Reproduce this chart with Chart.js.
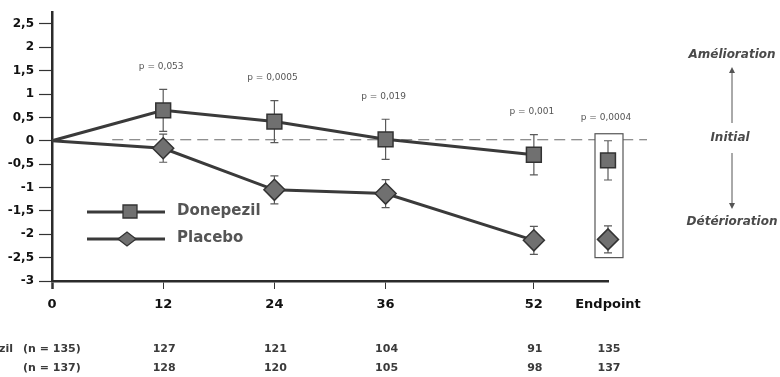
<!DOCTYPE html>
<html lang="fr">
<head>
<meta charset="UTF-8">
<title>Donepezil vs Placebo</title>
<script src="https://cdn.jsdelivr.net/npm/chart.js@4.4.0/dist/chart.umd.min.js"></script>
<style>
  html, body { margin: 0; padding: 0; background: #fff; }
  canvas { display: block; }
</style>
</head>
<body>
<canvas id="c" width="780" height="377"></canvas>
<script>
// --- data ---
const weeks = [0, 12, 24, 36, 52, 60];          // 60 = "Endpoint" slot
const weekLabels = ['0', '12', '24', '36', '52', 'Endpoint'];
const yTicks = [-3, -2.5, -2, -1.5, -1, -0.5, 0, 0.5, 1, 1.5, 2, 2.5];
const groupNames = ['Donepezil', 'Placebo'];
const donepezil = [0, 0.65, 0.41, 0.03, -0.30, -0.42];
const donepezilErr = [0, 0.45, 0.45, 0.43, 0.43, 0.42];
const placebo = [0, -0.16, -1.05, -1.13, -2.13, -2.11];
const placeboErr = [0, 0.30, 0.30, 0.30, 0.30, 0.29];
const pValues = ['', 'p = 0,053', 'p = 0,0005', 'p = 0,019', 'p = 0,001', 'p = 0,0004'];
const nDonepezil = ['(n = 135)', '127', '121', '104', '91', '135'];
const nPlacebo = ['(n = 137)', '128', '120', '105', '98', '137'];

const FONT = "'DejaVu Sans', sans-serif";
const LINE = '#3a3a3a';
const MARK = '#707070';
const errSets = [donepezilErr, placeboErr];
const valSets = [donepezil, placebo];

// error bars, zero line, endpoint box, annotations
const extras = {
  id: 'extras',
  beforeDatasetsDraw(chart) {
    const { ctx, chartArea } = chart;
    const xs = chart.scales.x, ys = chart.scales.y;
    ctx.save();
    // dashed baseline
    const y0 = ys.getPixelForValue(0) - 1;
    ctx.strokeStyle = '#6a6a6a';
    ctx.lineWidth = 1;
    ctx.setLineDash([11, 6]);
    ctx.beginPath();
    ctx.moveTo(xs.getPixelForValue(6.5), y0);
    ctx.lineTo(chartArea.right + 39, y0);
    ctx.stroke();
    ctx.setLineDash([]);

    // endpoint box
    const ex = xs.getPixelForValue(60);
    const bt = ys.getPixelForValue(0.15), bb = ys.getPixelForValue(-2.5);
    ctx.fillStyle = '#fff';
    ctx.fillRect(ex - 13, bt, 28, bb - bt);
    ctx.strokeStyle = '#555';
    ctx.lineWidth = 1.2;
    ctx.strokeRect(ex - 13, bt, 28, bb - bt);

    // error bars
    ctx.strokeStyle = '#5a5a5a';
    ctx.lineWidth = 1.2;
    valSets.forEach((vals, k) => {
      vals.forEach((v, i) => {
        const e = errSets[k][i];
        if (!e) return;
        const x = xs.getPixelForValue(weeks[i]);
        const t = ys.getPixelForValue(v + e), b = ys.getPixelForValue(v - e);
        ctx.beginPath();
        ctx.moveTo(x, t); ctx.lineTo(x, b);
        ctx.moveTo(x - 4, t); ctx.lineTo(x + 4, t);
        ctx.moveTo(x - 4, b); ctx.lineTo(x + 4, b);
        ctx.stroke();
      });
    });
    ctx.restore();
  },
  afterDraw(chart) {
    const { ctx } = chart;
    const xs = chart.scales.x, ys = chart.scales.y;
    ctx.save();
    ctx.textBaseline = 'middle';

    // p values
    ctx.font = '9px ' + FONT;
    ctx.fillStyle = '#555';
    ctx.textAlign = 'center';
    pValues.forEach((p, i) => {
      if (!p) return;
      const top = ys.getPixelForValue(donepezil[i] + donepezilErr[i]);
      ctx.fillText(p, xs.getPixelForValue(weeks[i]) - 2, top - 23);
    });

    // legend inside plot
    const ly = [212, 239];
    ctx.strokeStyle = LINE;
    ctx.lineWidth = 3;
    ly.forEach((y, k) => {
      ctx.beginPath();
      ctx.moveTo(87, y); ctx.lineTo(165, y);
      ctx.stroke();
    });
    ctx.lineWidth = 1.3;
    ctx.fillStyle = MARK;
    ctx.strokeStyle = '#333';
    ctx.beginPath();
    ctx.rect(123, ly[0] - 7, 14, 13);
    ctx.fill(); ctx.stroke();
    ctx.beginPath();
    ctx.moveTo(118, ly[1]); ctx.lineTo(127, ly[1] - 7);
    ctx.lineTo(136, ly[1]); ctx.lineTo(127, ly[1] + 7);
    ctx.closePath();
    ctx.fill(); ctx.stroke();
    ctx.font = 'bold 15px ' + FONT;
    ctx.fillStyle = '#555';
    ctx.textAlign = 'left';
    groupNames.forEach((g, k) => ctx.fillText(g, 177, ly[k] - 1));

    // patient counts below axis (group names run off the left edge)
    ctx.font = 'bold 11px ' + FONT;
    ctx.fillStyle = '#3a3a3a';
    const rows = [nDonepezil, nPlacebo];
    const ry = [349, 368];
    const nameEnd = [13, -2];
    rows.forEach((row, k) => {
      ctx.textAlign = 'right';
      ctx.fillText(groupNames[k], nameEnd[k], ry[k]);
      ctx.textAlign = 'left';
      ctx.fillText(row[0], 23, ry[k]);
      ctx.textAlign = 'center';
      for (let i = 1; i < row.length; i++) {
        ctx.fillText(row[i], xs.getPixelForValue(weeks[i]) + 1, ry[k]);
      }
    });

    // direction annotation on the right
    const ax = 732;
    ctx.font = 'italic bold 12px ' + FONT;
    ctx.fillStyle = '#4a4a4a';
    ctx.textAlign = 'center';
    ctx.fillText('Amélioration', ax, 55);
    ctx.fillText('Initial', ax - 2, 138);
    ctx.fillText('Détérioration', ax, 222);
    ctx.strokeStyle = '#555';
    ctx.fillStyle = '#555';
    ctx.lineWidth = 1;
    ctx.beginPath();
    ctx.moveTo(ax, 123); ctx.lineTo(ax, 70);
    ctx.moveTo(ax, 153); ctx.lineTo(ax, 206);
    ctx.stroke();
    ctx.beginPath();
    ctx.moveTo(ax, 67); ctx.lineTo(ax - 3, 73); ctx.lineTo(ax + 3, 73); ctx.closePath();
    ctx.moveTo(ax, 209); ctx.lineTo(ax - 3, 203); ctx.lineTo(ax + 3, 203); ctx.closePath();
    ctx.fill();
    ctx.restore();
  }
};

function series(vals, name, style) {
  return {
    label: name,
    data: weeks.map((w, i) => ({ x: w, y: vals[i] })),
    borderColor: LINE,
    borderWidth: 3,
    tension: 0,
    pointStyle: style,
    pointRadius: c => (c.dataIndex === 0 ? 0 : 10.5),
    pointBackgroundColor: MARK,
    pointBorderColor: '#333',
    pointBorderWidth: 1.5,
    segment: { borderColor: c => (c.p1DataIndex === weeks.length - 1 ? 'rgba(0,0,0,0)' : undefined) },
    clip: false
  };
}

Chart.defaults.font.family = FONT;

new Chart(document.getElementById('c'), {
  type: 'line',
  data: {
    datasets: [
      series(donepezil, groupNames[0], 'rect'),
      series(placebo, groupNames[1], 'rectRot')
    ]
  },
  options: {
    responsive: false,
    animation: false,
    devicePixelRatio: 1,
    layout: { padding: { top: 9, right: 172, bottom: 66, left: 0 } },
    plugins: { legend: { display: false }, tooltip: { enabled: false } },
    scales: {
      x: {
        type: 'linear',
        min: 0,
        max: 60,
        afterBuildTicks: s => { s.ticks = weeks.map(v => ({ value: v })); },
        afterFit: s => { s.height = 30; },
        ticks: {
          callback: v => weekLabels[weeks.indexOf(v)],
          font: { size: 13, weight: 'bold' },
          color: '#111',
          padding: 8,
          maxRotation: 0,
          autoSkip: false
        },
        grid: {
          drawOnChartArea: false,
          tickLength: 8,
          tickColor: c => (c.tick && c.tick.value === 60 ? 'rgba(0,0,0,0)' : '#333'),
          tickWidth: c => (c.tick && c.tick.value === 0 ? 2.5 : 1)
        },
        border: { color: '#2b2b2b', width: 2.5 }
      },
      y: {
        min: -3,
        max: 2.75,
        afterBuildTicks: s => { s.ticks = yTicks.map(v => ({ value: v })); },
        afterFit: s => { s.width = 52; },
        ticks: {
          callback: v => String(v).replace('.', ','),
          font: { size: 12, weight: 'bold' },
          color: '#111',
          padding: 5
        },
        grid: { drawOnChartArea: false, tickLength: 13, tickColor: '#333', tickWidth: 1.2 },
        border: { color: '#2b2b2b', width: 2.5 }
      }
    }
  },
  plugins: [extras]
});
</script>
</body>
</html>
